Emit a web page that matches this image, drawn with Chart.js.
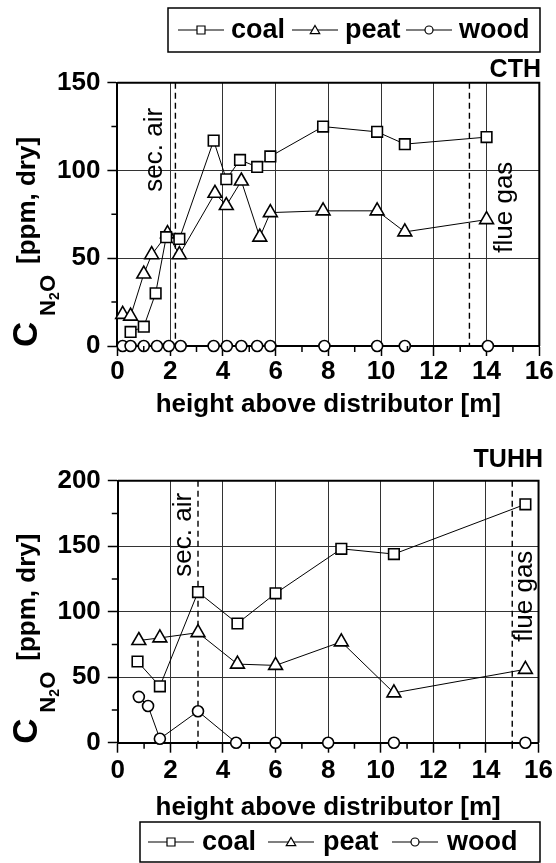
<!DOCTYPE html>
<html><head><meta charset="utf-8">
<script src="https://cdn.jsdelivr.net/npm/chart.js@4.4.1/dist/chart.umd.min.js"></script>
<style>
html,body{margin:0;padding:0;background:#fff;}
#wrap{position:relative;width:556px;height:863px;overflow:hidden;background:#fff;}
canvas{position:absolute;left:0;}
</style></head><body>
<div id="wrap">
<canvas id="c1" width="556" height="430" style="top:0;width:556px;height:430px"></canvas>
<canvas id="c2" width="556" height="433" style="top:430px;width:556px;height:433px"></canvas>
</div>
<script>
// ---------- data ----------
const seriesNames = ['coal', 'peat', 'wood'];
const xTickValues = [0, 2, 4, 6, 8, 10, 12, 14, 16];
const cthYTickValues = [0, 50, 100, 150];
const tuhhYTickValues = [0, 50, 100, 150, 200];
const chartTitles = ['CTH', 'TUHH'];
const xTitle = 'height above distributor [m]';
const markerLabels = ['sec. air', 'flue gas'];

// CTH
const cthCoalX = [0.5, 1.0, 1.45, 1.85, 2.35, 3.65, 4.13, 4.65, 5.3, 5.8, 7.8, 9.85, 10.9, 14.0];
const cthCoalY = [8, 11, 30, 62, 61, 117, 95, 106, 102, 108, 125, 122, 115, 119];
const cthPeatX = [0.2, 0.5, 1.0, 1.3, 1.9, 2.35, 3.7, 4.13, 4.7, 5.4, 5.8, 7.8, 9.85, 10.9, 14.0];
const cthPeatY = [18, 17, 41, 52, 64, 52, 87, 80, 94, 62, 76, 77, 77, 65, 72];
const cthWoodX = [0.2, 0.5, 1.0, 1.5, 1.95, 2.4, 3.65, 4.15, 4.7, 5.3, 5.8, 7.85, 9.85, 10.9, 14.05];
const cthWoodY = [0, 0, 0, 0, 0, 0, 0, 0, 0, 0, 0, 0, 0, 0, 0];
const cthMarkerX = [2.2, 13.35];

// TUHH
const tuhhCoalX = [0.75, 1.6, 3.05, 4.55, 6.0, 8.5, 10.5, 15.5];
const tuhhCoalY = [62, 43, 115, 91, 114, 148, 144, 182];
const tuhhPeatX = [0.8, 1.6, 3.05, 4.55, 6.0, 8.5, 10.5, 15.5];
const tuhhPeatY = [78, 80, 84, 60, 59, 77, 38, 56];
const tuhhWoodX = [0.8, 1.15, 1.6, 3.05, 4.5, 6.0, 8.0, 10.5, 15.5];
const tuhhWoodY = [35, 28, 3, 24, 0, 0, 0, 0, 0];
const tuhhMarkerX = [3.05, 15.0];

// ---------- drawing helpers ----------
const FAM = "'Liberation Sans', Arial, Helvetica, sans-serif";
Chart.defaults.font.family = FAM;
Chart.defaults.color = '#000';

function shape(ctx, style, x, y, r) {
  ctx.beginPath();
  if (style === 'rect') {
    ctx.rect(x - r, y - r, 2 * r, 2 * r);
  } else if (style === 'triangle') {
    const h = r * 1.8, w = r * 1.05;
    ctx.moveTo(x, y - h * 0.55);
    ctx.lineTo(x + w, y + h * 0.45);
    ctx.lineTo(x - w, y + h * 0.45);
    ctx.closePath();
  } else {
    ctx.arc(x, y, r, 0, Math.PI * 2);
  }
  ctx.fillStyle = '#fff';
  ctx.fill();
  ctx.stroke();
}

function vText(ctx, text, font, baseX, startY) {
  ctx.save();
  ctx.font = font;
  ctx.textAlign = 'left';
  ctx.textBaseline = 'alphabetic';
  ctx.translate(baseX, startY);
  ctx.rotate(-Math.PI / 2);
  ctx.fillText(text, 0, 0);
  ctx.restore();
}

function decoPlugin(cfg) {
  return {
    id: 'deco',
    beforeDatasetsDraw(chart) {
      const {ctx, chartArea: a, scales: {x}} = chart;
      ctx.save();
      ctx.strokeStyle = '#000';
      ctx.lineWidth = 1.4;
      ctx.setLineDash([6, 4]);
      cfg.markers.forEach(v => {
        const px = x.getPixelForValue(v);
        ctx.beginPath(); ctx.moveTo(px, a.top); ctx.lineTo(px, a.bottom); ctx.stroke();
      });
      ctx.restore();
    },
    afterDraw(chart) {
      const {ctx, chartArea: a, scales: {x, y}} = chart;
      ctx.save();
      // frame top/right
      ctx.strokeStyle = '#000';
      ctx.lineWidth = 2;
      ctx.beginPath();
      ctx.moveTo(a.left, a.top); ctx.lineTo(a.right, a.top); ctx.lineTo(a.right, a.bottom);
      ctx.stroke();
      // minor ticks
      ctx.lineWidth = 1.5;
      ctx.beginPath();
      for (let i = 0; i < xTickValues.length - 1; i++) {
        const v = (xTickValues[i] + xTickValues[i + 1]) / 2;
        const px = x.getPixelForValue(v);
        ctx.moveTo(px, a.bottom); ctx.lineTo(px, a.bottom + 6);
      }
      for (let i = 0; i < cfg.yTicks.length - 1; i++) {
        const v = (cfg.yTicks[i] + cfg.yTicks[i + 1]) / 2;
        const py = y.getPixelForValue(v);
        ctx.moveTo(a.left, py); ctx.lineTo(a.left - 6, py);
      }
      ctx.stroke();
      ctx.fillStyle = '#000';
      // chart title
      ctx.font = "bold 25px " + FAM;
      ctx.textAlign = 'right';
      ctx.textBaseline = 'alphabetic';
      ctx.fillText(cfg.title, cfg.titleX, cfg.titleY);
      // marker labels
      const f = "26px " + FAM;
      const p0 = x.getPixelForValue(cfg.markers[0]);
      const p1 = x.getPixelForValue(cfg.markers[1]);
      vText(ctx, markerLabels[0], f, p0 + cfg.m0dx, a.top + cfg.m0dy);
      vText(ctx, markerLabels[1], f, p1 + cfg.m1dx, a.top + cfg.m1dy);
      // y title
      const y0 = y.getPixelForValue(0);
      vText(ctx, 'C', "bold 35px " + FAM, 37, y0 + 1);
      vText(ctx, 'N', "bold 22px " + FAM, 55, y0 - 30);
      vText(ctx, '2', "bold 14px " + FAM, 59, y0 - 46);
      vText(ctx, 'O', "bold 22px " + FAM, 55, y0 - 54);
      vText(ctx, '[ppm, dry]', "bold 26px " + FAM, 35, y0 - 82);
      // legend
      const L = cfg.legend;
      ctx.lineWidth = 1.5;
      ctx.strokeRect(L.box[0], L.box[1], L.box[2], L.box[3]);
      const styles = ['rect', 'triangle', 'circle'];
      const rr = [4, 4.5, 4];
      L.items.forEach((it, i) => {
        ctx.lineWidth = 1.2;
        ctx.strokeStyle = '#000';
        ctx.beginPath(); ctx.moveTo(it[0], L.cy); ctx.lineTo(it[0] + 46, L.cy); ctx.stroke();
        shape(ctx, styles[i], it[0] + 23, L.cy, rr[i]);
        ctx.fillStyle = '#000';
        ctx.font = "bold 27px " + FAM;
        ctx.textAlign = 'left';
        ctx.textBaseline = 'middle';
        ctx.fillText(seriesNames[i], it[1], L.cy + 1);
      });
      ctx.restore();
    }
  };
}

function makeChart(id, cfg) {
  const pts = (xs, ys) => xs.map((v, i) => ({x: v, y: ys[i]}));
  const styles = ['rect', 'triangle', 'circle'];
  const radii = [7.5, 8, 5.5];
  const datasets = cfg.series.map((s, i) => ({
    label: seriesNames[i],
    data: pts(s[0], s[1]),
    borderColor: '#000', borderWidth: 1,
    pointStyle: styles[i], pointRadius: radii[i],
    pointBackgroundColor: '#fff', pointBorderColor: '#000', pointBorderWidth: 1.6,
    fill: false, tension: 0, clip: false
  }));
  return new Chart(document.getElementById(id), {
    type: 'line',
    data: {datasets},
    options: {
      responsive: false, animation: false,
      layout: {padding: {left: 0, right: cfg.padRight, top: cfg.padTop, bottom: 0}},
      plugins: {legend: {display: false}, tooltip: {enabled: false}},
      scales: {
        x: {
          type: 'linear', min: 0, max: 16,
          afterBuildTicks: s => { s.ticks = xTickValues.map(v => ({value: v})); },
          afterFit: s => { s.height = cfg.xHeight; },
          ticks: {font: {size: 26, weight: 'bold'}, color: '#000', padding: cfg.xTickPad, maxRotation: 0},
          grid: {color: '#333', lineWidth: 1, tickLength: 10, tickColor: '#000', tickWidth: 1.5},
          border: {color: '#000', width: 2},
          title: {display: true, text: xTitle, color: '#000',
                  font: {size: 26, weight: 'bold'}, padding: {top: 0, bottom: cfg.xTitlePad}}
        },
        y: {
          type: 'linear', min: 0, max: cfg.yTicks[cfg.yTicks.length - 1],
          afterBuildTicks: s => { s.ticks = cfg.yTicks.map(v => ({value: v})); },
          afterFit: s => { s.width = cfg.yWidth; },
          ticks: {font: {size: 26, weight: 'bold'}, color: '#000', padding: 7},
          grid: {color: '#333', lineWidth: 1, tickLength: 10, tickColor: '#000', tickWidth: 1.5},
          border: {color: '#000', width: 2}
        }
      }
    },
    plugins: [decoPlugin(cfg)]
  });
}

makeChart('c1', {
  series: [[cthCoalX, cthCoalY], [cthPeatX, cthPeatY], [cthWoodX, cthWoodY]],
  yTicks: cthYTickValues, markers: cthMarkerX, title: chartTitles[0],
  padTop: 82.7, padRight: 16.7, yWidth: 117.4, xHeight: 84,
  xTickPad: 0, xTitlePad: 10,
  titleX: 541, titleY: 77,
  m0dx: -13, m0dy: 109, m1dx: 43, m1dy: 170,
  legend: {box: [168, 8, 372, 44], cy: 30, items: [[178, 231], [292, 345], [406, 459]]}
});

makeChart('c2', {
  series: [[tuhhCoalX, tuhhCoalY], [tuhhPeatX, tuhhPeatY], [tuhhWoodX, tuhhWoodY]],
  yTicks: tuhhYTickValues, markers: tuhhMarkerX, title: chartTitles[1],
  padTop: 50.7, padRight: 15, yWidth: 117.8, xHeight: 120.3,
  xTickPad: 3, xTitlePad: 40,
  titleX: 543, titleY: 37,
  m0dx: -7, m0dy: 96, m1dx: 20, m1dy: 161,
  legend: {box: [140, 392, 400, 40], cy: 412, items: [[148, 202], [268, 323], [392, 447]]}
});
</script>
</body></html>
